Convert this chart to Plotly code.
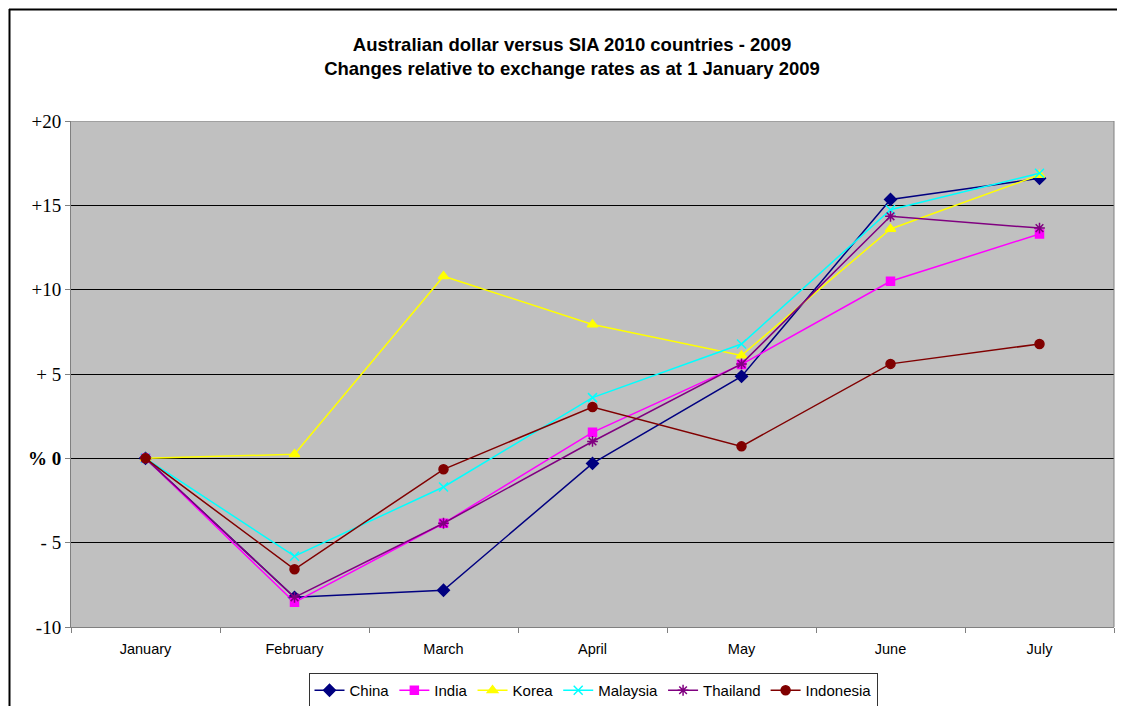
import plotly.graph_objects as go

months = ["January", "February", "March", "April", "May", "June", "July"]
china = [0, -8.24, -7.82, -0.3, 4.86, 15.35, 16.6]
india = [0, -8.54, -3.85, 1.54, 5.57, 10.5, 13.3]
korea = [0, 0.24, 10.8, 7.94, 6.1, 13.6, 16.8]
malaysia = [0, -5.8, -1.7, 3.6, 6.78, 14.74, 16.9]
thailand = [0, -8.24, -3.85, 1.0, 5.6, 14.35, 13.65]
indonesia = [0, -6.58, -0.65, 3.04, 0.71, 5.6, 6.78]

ytick_vals = [20, 15, 10, 5, 0, -5, -10]
ytick_text = ["+20", "+15", "+10", "+ 5", "<b>% 0</b>", "- 5", "-10"]

series = [
    ("China", china, "#000080", "diamond", 9),
    ("India", india, "#FF00FF", "square", 8),
    ("Korea", korea, "#FFFF00", "triangle-up", 9),
    ("Malaysia", malaysia, "#00FFFF", "x-thin-open", 9),
    ("Thailand", thailand, "#800080", "asterisk-open", 9),
    ("Indonesia", indonesia, "#800000", "circle", 9),
]

fig = go.Figure()
for name, vals, color, sym, size in series:
    fig.add_trace(go.Scatter(
        x=months, y=vals, name=name, mode="lines+markers",
        line=dict(color=color, width=1.5),
        marker=dict(symbol=sym, size=size, color=color,
                    line=dict(color=color, width=1.5)),
    ))

OFF = 8  # default body margin of the page
W, H = 1117, 698
L, R, T, B = 63, 11, 113, 79
pw, ph = W - L - R, H - T - B

def px(x):
    return (x - OFF - L) / pw

def py(y):
    return (H - B - (y - OFF)) / ph

fig.update_layout(
    width=W, height=H,
    margin=dict(l=L, r=R, t=T, b=B, autoexpand=False),
    paper_bgcolor="white",
    plot_bgcolor="#C0C0C0",
    title=dict(
        text="Australian dollar versus SIA 2010 countries - 2009<br>Changes relative to exchange rates as at 1 January 2009",
        x=px(572), xref="paper", xanchor="center", y=1 - (51 - OFF) / H, yanchor="middle",
        font=dict(family="Liberation Sans, Arial", size=18.5, color="black", weight="bold"),
    ),
    xaxis=dict(
        type="category", range=[-0.5, 6.5], automargin=False,
        showgrid=False, ticks="outside", tickson="boundaries", ticklen=5,
        tickcolor="#808080", showline=True, linecolor="#808080", linewidth=1,
        mirror=False, ticklabelstandoff=9,
        tickfont=dict(family="Liberation Sans, Arial", size=14.5, color="black"),
        zeroline=False,
    ),
    yaxis=dict(
        range=[-10, 20], tickvals=ytick_vals, ticktext=ytick_text, automargin=False,
        showgrid=True, gridcolor="#000000", gridwidth=1,
        ticks="outside", ticklen=5, tickcolor="#808080",
        showline=True, linecolor="#808080", linewidth=1,
        zeroline=False,
        tickfont=dict(family="Liberation Serif, Times New Roman", size=19, color="black"),
    ),
    legend=dict(
        orientation="h", x=px(593), xanchor="center", y=py(673), yanchor="top",
        bgcolor="white", bordercolor="#333333", borderwidth=1,
        font=dict(family="Liberation Sans, Arial", size=15, color="black"),
        itemwidth=30, tracegroupgap=0,
    ),
    showlegend=True,
)

# outer chart frame (left, top, right edges)
for (x0, y0, x1, y1) in [(9.5, 9, 9.5, 712), (9, 9.5, 1119.5, 9.5), (1119.5, 9, 1119.5, 712)]:
    fig.add_shape(type="line", xref="paper", yref="paper",
                  x0=px(x0), x1=px(x1), y0=py(y0), y1=py(y1),
                  line=dict(color="black", width=2), layer="above")
fig.add_shape(type="line", xref="paper", yref="y", x0=1, x1=1, y0=-10, y1=20,
              line=dict(color="#808080", width=1))
fig.add_shape(type="line", xref="paper", yref="y", x0=0, x1=1, y0=20, y1=20,
              line=dict(color="#808080", width=1))

fig.write_html("out.html")
